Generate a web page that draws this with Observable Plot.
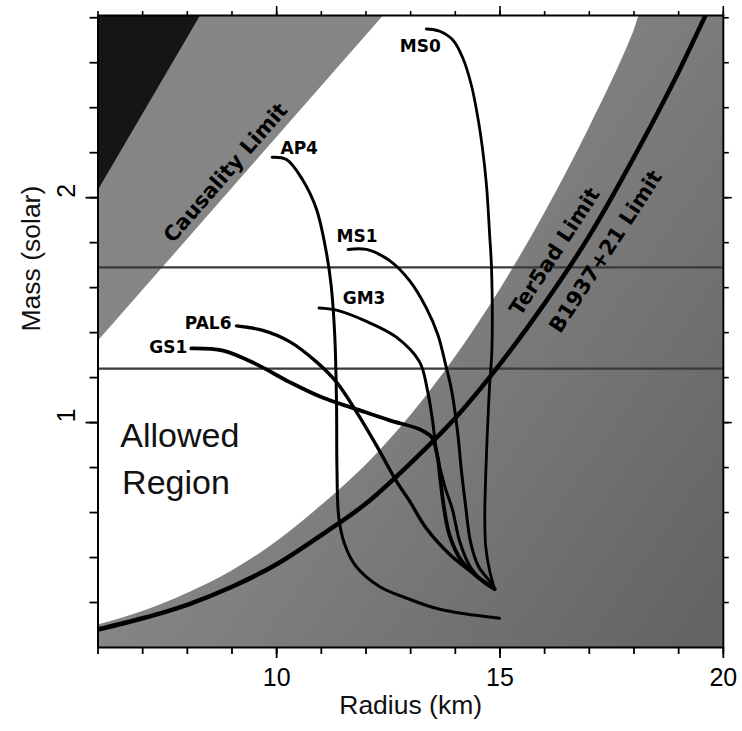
<!DOCTYPE html>
<html><head><meta charset="utf-8">
<script src="https://cdn.jsdelivr.net/npm/d3@7"></script>
<script src="https://cdn.jsdelivr.net/npm/@observablehq/plot@0.6"></script>
<style>html,body{margin:0;padding:0;background:#fff;} #chart svg{display:block;}</style>
</head><body><div id="chart"></div>
<script>
// ---- axes ----
const xDomain = [6, 20];
const yDomain = [0, 2.81];
const xMinorTicks = [6,7,8,9,10,11,12,13,14,15,16,17,18,19,20];
const xMajorTicks = [10, 15, 20];
const yMinorTicks = [0.2,0.4,0.6,0.8,1.0,1.2,1.4,1.6,1.8,2.0,2.2,2.4,2.6,2.8];
const yMajorTicks = [1, 2];

// ---- limit boundaries (Radius km, Mass solar) ----
const horizonR = [6, 8.30];          // black region boundary
const horizonM = [2.03, 2.81];
const causalityR = [6, 12.40];
const causalityM = [1.36, 2.81];
const ter5adR = [6,7,8,9,10,11,12,13,14,15,16,17,18,18.14];
const ter5adM = [0.10,0.16,0.24,0.34,0.47,0.63,0.81,1.03,1.29,1.59,1.93,2.31,2.74,2.81];
const b1937R = [6,7,8,9,10,11,12,13,14,15,16,17,18,19,19.6];
const b1937M = [0.08,0.13,0.19,0.27,0.37,0.50,0.64,0.82,1.02,1.26,1.53,1.83,2.18,2.56,2.81];
const measuredMasses = [1.69, 1.24];

// ---- equations of state ----
const ms0R = [13.35,13.65,13.95,14.17,14.36,14.51,14.62,14.70,14.77,14.81,14.82,14.76,14.70,14.66,14.68,14.77,14.88];
const ms0M = [2.75,2.74,2.70,2.62,2.50,2.35,2.20,2.05,1.83,1.69,1.33,1.14,0.87,0.59,0.45,0.34,0.26];
const ap4R = [9.90,10.22,10.58,10.89,11.11,11.22,11.30,11.34,11.35,11.39,11.52,11.78,12.31,12.90,13.65,14.99];
const ap4M = [2.18,2.17,2.08,1.95,1.76,1.61,1.39,1.09,0.80,0.58,0.46,0.36,0.27,0.22,0.17,0.13];
const ms1R = [11.60,12.01,12.53,12.98,13.35,13.61,13.78,13.92,14.05,14.14,14.23,14.34,14.52,14.75,14.88];
const ms1M = [1.77,1.77,1.72,1.63,1.51,1.39,1.26,1.14,0.96,0.78,0.63,0.47,0.36,0.30,0.26];
const gm3R = [10.95,11.34,12.01,12.68,13.20,13.38,13.49,13.58,13.76,13.94,14.10,14.33,14.64,14.88];
const gm3M = [1.51,1.50,1.45,1.38,1.27,1.14,1.01,0.87,0.72,0.61,0.47,0.36,0.29,0.26];
const pal6R = [9.10,9.69,10.29,10.89,11.34,11.78,12.23,12.68,12.98,13.35,13.87,14.40,14.88];
const pal6M = [1.43,1.41,1.36,1.27,1.18,1.05,0.90,0.74,0.65,0.53,0.415,0.33,0.26];
const gs1R = [8.09,8.80,9.54,10.29,11.04,11.78,12.53,13.20,13.47,13.60,13.67,13.74,13.87,14.14,14.55,14.88];
const gs1M = [1.33,1.32,1.26,1.18,1.11,1.06,1.01,0.97,0.935,0.85,0.74,0.63,0.50,0.385,0.305,0.26];

// ---- annotation texts ----
const limitLabelText = ["Causality Limit", "Ter5ad Limit", "B1937+21 Limit"];
const limitLabelR = [8.86, 16.23, 17.37];
const limitLabelM = [2.11, 1.76, 1.76];
const regionText = ["Allowed", "Region"];
const regionR = [6.50, 6.54];
const regionM = [0.94, 0.73];

const rows = (R, M) => R.map((r, i) => ({R: r, M: M[i]}));

const eos = [
  {name: "MS0", rows: rows(ms0R, ms0M), sw: 2.8, label: {textAnchor: "middle", dx: -6, dy: 18}},
  {name: "AP4", rows: rows(ap4R, ap4M), sw: 3.0, label: {textAnchor: "middle", dx: 27, dy: -9}},
  {name: "MS1", rows: rows(ms1R, ms1M), sw: 3.0, label: {textAnchor: "middle", dx: 9, dy: -13}},
  {name: "GM3", rows: rows(gm3R, gm3M), sw: 3.0, label: {textAnchor: "middle", dx: 45, dy: -9}},
  {name: "PAL6", rows: rows(pal6R, pal6M), sw: 3.4, label: {textAnchor: "end", dx: -5, dy: -2}},
  {name: "GS1", rows: rows(gs1R, gs1M), sw: 3.8, label: {textAnchor: "end", dx: -4, dy: -1}}
];

const terArea = rows(ter5adR, ter5adM).concat([{R: xDomain[1], M: yDomain[1]}]);

const marks = [
  // shaded regions
  Plot.areaY(terArea, {x: "R", y: "M", fill: "url(#terGrad)", curve: "monotone-x"}),
  Plot.areaY(rows(causalityR, causalityM), {x: "R", y1: "M", y2: yDomain[1], fill: "#858585"}),
  Plot.areaY(rows(horizonR, horizonM), {x: "R", y1: "M", y2: yDomain[1], fill: "#151515"}),
  // measured masses
  Plot.ruleY(measuredMasses, {stroke: "#3a3a3a", strokeWidth: 2.4}),
  // B1937+21 limit
  Plot.line(rows(b1937R, b1937M), {x: "R", y: "M", stroke: "#000", strokeWidth: 4.5, curve: "monotone-x", clip: true}),
];

for (const s of eos) {
  marks.push(Plot.line(s.rows, {x: "R", y: "M", stroke: "#000", strokeWidth: s.sw, curve: "catmull-rom", strokeLinecap: "round", clip: true}));
  marks.push(Plot.text([s.rows[0]], {x: "R", y: "M", text: () => s.name, fontSize: 17, fontWeight: "bold",
    fontFamily: "DejaVu Sans", fill: "#000", lineAnchor: "middle", ...s.label}));
}

const limitRows = limitLabelText.map((t, i) => ({t, R: limitLabelR[i], M: limitLabelM[i]}));
marks.push(
  Plot.text([limitRows[0]], {x: "R", y: "M", text: "t", rotate: -49, fontSize: 21, fontWeight: "bold", fontFamily: "DejaVu Sans", fill: "#000", letterSpacing: "0.6px"}),
  Plot.text(limitRows.slice(1), {x: "R", y: "M", text: "t", rotate: -57, fontSize: 21, fontWeight: "bold", fontFamily: "DejaVu Sans", fill: "#000", letterSpacing: "0.6px"}),
  Plot.text(regionText.map((t, i) => ({t, R: regionR[i], M: regionM[i]})), {x: "R", y: "M", text: "t", textAnchor: "start", fontSize: 34, fontFamily: "Liberation Sans", fill: "#111"})
);

// axes
marks.push(
  Plot.frame({stroke: "#000", strokeWidth: 2}),
  Plot.axisX(xMinorTicks, {anchor: "bottom", tickSize: 7, tickFormat: () => "", label: null, strokeWidth: 1.8}),
  Plot.axisX(xMajorTicks, {anchor: "bottom", tickSize: 11, tickPadding: 10, fontSize: 25, label: null, strokeWidth: 1.8}),
  Plot.axisX(xMinorTicks, {anchor: "top", tickSize: 5, tickFormat: () => "", label: null, strokeWidth: 1.6}),
  Plot.axisX(xMajorTicks, {anchor: "top", tickSize: 10, tickFormat: () => "", label: null, strokeWidth: 1.6}),
  Plot.axisY(yMinorTicks, {anchor: "left", tickSize: 8, tickFormat: () => "", label: null, strokeWidth: 1.8}),
  Plot.axisY(yMajorTicks, {anchor: "left", tickSize: 12, tickFormat: () => "", label: null, strokeWidth: 1.8}),
  Plot.axisY(yMinorTicks, {anchor: "right", tickSize: 5, tickFormat: () => "", label: null, strokeWidth: 1.6}),
  Plot.axisY(yMajorTicks, {anchor: "right", tickSize: 8, tickFormat: () => "", label: null, strokeWidth: 1.6}),
  Plot.text(yMajorTicks, {y: d => d, text: d => String(d), frameAnchor: "left", dx: -31, rotate: -90, fontSize: 25, fill: "#000"}),
  Plot.text(["Radius (km)"], {text: d => d, frameAnchor: "bottom", dy: 66, fontSize: 26.5, fill: "#111"}),
  Plot.text(["Mass (solar)"], {text: d => d, frameAnchor: "left", dx: -66, rotate: -90, fontSize: 26.5, fill: "#111"})
);

const svg = Plot.plot({
  width: 742,
  height: 731,
  marginLeft: 97.5,
  marginRight: 19.2,
  marginTop: 15,
  marginBottom: 84,
  x: {domain: xDomain},
  y: {domain: yDomain},
  style: {fontFamily: "Liberation Sans", background: "#fff", color: "#000"},
  marks
});

// gradient for the mass-shedding excluded region
const NS = "http://www.w3.org/2000/svg";
const defs = document.createElementNS(NS, "defs");
const grad = document.createElementNS(NS, "linearGradient");
grad.setAttribute("id", "terGrad");
grad.setAttribute("x1", "0"); grad.setAttribute("y1", "0.2");
grad.setAttribute("x2", "1"); grad.setAttribute("y2", "0.9");
[["0", "#979797"], ["0.5", "#7f7f7f"], ["1", "#646464"]].forEach(([o, c]) => {
  const st = document.createElementNS(NS, "stop");
  st.setAttribute("offset", o); st.setAttribute("stop-color", c);
  grad.appendChild(st);
});
defs.appendChild(grad);
svg.insertBefore(defs, svg.firstChild);

document.getElementById("chart").append(svg);
</script>
</body></html>
